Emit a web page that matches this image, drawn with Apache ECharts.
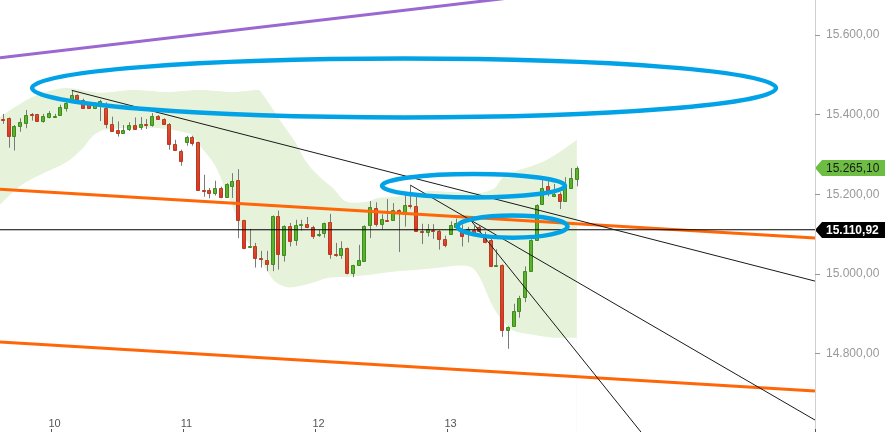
<!DOCTYPE html>
<html><head><meta charset="utf-8">
<script src="https://cdn.jsdelivr.net/npm/echarts@6/dist/echarts.min.js"></script>
<style>html,body{margin:0;padding:0;background:#fff}#c{width:887px;height:432px}</style>
</head><body><div id="c"></div>
<script>
// ---- categories (hourly slots, 23 per day) ----
const dayLabels = ['10', '11', '12', '13'];
const firstDayStartIndex = 9;
const slotsPerDay = 23;
const slotCount = 142;

// ---- candles (index 0..100) ----
const opens  = [15389,15391,15347,15372,15380,15401,15401,15385,15394,15394,15398,15416,15440,15450,15437,15426,15416,15429,15418,15376,
                15362,15353,15364,15374,15368,15377,15373,15397,15389,15377,15326,15309,15332,15343,15331,15210,15210,15204,15216,15192,
                15222,15236,15135,15068,15071,15041,15036,15025,15146,15047,15121,15085,15122,15125,15119,15097,15103,15130,15051,15047,
                15065,15003,15022,15032,15122,15165,15125,15136,15136,15161,15155,15174,15171,15109,15106,15111,15109,15088,15100,15119,
                15113,15107,15111,15118,15094,15085,15021,15023,14858,14868,14906,14942,15007,15086,15175,15221,15195,15201,15182,15216,15238];
const closes = [15387,15347,15372,15381,15399,15399,15385,15397,15404,15397,15419,15430,15450,15437,15418,15418,15429,15435,15376,15358,
                15355,15362,15374,15365,15376,15375,15397,15389,15376,15326,15311,15283,15343,15330,15211,15209,15204,15216,15192,15226,
                15234,15135,15066,15071,15040,15037,15025,15146,15050,15121,15082,15124,15125,15119,15095,15100,15128,15050,15048,15065,
                15002,15022,15036,15121,15168,15125,15139,15134,15160,15156,15174,15170,15109,15107,15114,15107,15088,15072,15124,15129,
                15096,15113,15103,15107,15079,15021,15023,14858,14867,14906,14940,15007,15086,15174,15216,15207,15200,15182,15220,15241,15265.10];
const lows   = [15377,15317,15310,15357,15366,15385,15383,15380,15391,15393,15397,15408,15439,15429,15417,15416,15414,15384,15366,15357,
                15345,15352,15359,15364,15362,15364,15370,15387,15374,15312,15309,15272,15322,15322,15210,15194,15190,15197,15190,15191,
                15191,15090,15062,15067,15016,15016,15007,15007,15011,15031,15069,15071,15109,15115,15088,15093,15091,15038,15043,15038,
                14999,14992,15021,15031,15090,15119,15112,15132,15135,15055,15119,15164,15107,15075,15094,15088,15061,15067,15099,15114,
                15069,15079,15096,15104,15077,15017,15020,14842,14812,14868,14890,14929,15006,15083,15174,15195,15193,15163,15181,15215,15220];
const highs  = [15402,15393,15374,15391,15412,15404,15402,15402,15409,15402,15425,15439,15461,15451,15440,15428,15431,15437,15431,15395,
                15383,15374,15381,15393,15394,15389,15404,15399,15391,15379,15337,15312,15347,15347,15332,15249,15216,15234,15219,15228,
                15253,15263,15136,15113,15078,15058,15058,15147,15159,15122,15128,15136,15136,15143,15121,15111,15129,15151,15078,15082,
                15066,15023,15073,15122,15183,15180,15150,15188,15178,15162,15204,15223,15197,15126,15125,15125,15110,15096,15132,15139,
                15124,15118,15121,15120,15106,15091,15062,15024,14868,14925,14945,15019,15087,15175,15236,15233,15226,15205,15243,15266,15270];

// ---- Bollinger band outline points (x in slot units) ----
const upperX = [-0.5,5.25,11.2,16.9,22.7,28.6,34.3,40.1,44.5,45.3,46.9,49.2,50.9,52.6,54.0,55.8,57.5,59.3,60.5,61.9,63.4,65.4,68.3,71.8,74.4,77.9,83.1,85.7,87.0,88.9,91.8,94.8,97.6,100];
const upperY = [15394,15445,15467,15455,15462,15457,15462,15457,15462,15450,15417,15367,15332,15287,15261,15236,15216,15186,15179,15179,15181,15191,15194,15199,15209,15206,15204,15216,15241,15256,15269,15287,15312,15337];
const lowerX = [-0.5,3.0,6.5,11.2,14.0,15.7,17.8,25.6,32.6,33.8,35.2,37.0,38.7,39.9,41.0,42.2,43.9,45.7,47.4,50.0,53.5,57.0,60.5,64.0,68.3,72.7,76.2,79.6,81.7,83.1,85.7,88.7,92.2,96.2,100];
const lowerY = [15174,15221,15249,15282,15317,15347,15362,15367,15352,15332,15307,15272,15216,15174,15131,15091,15056,15016,14981,14966,14976,14991,14993,14998,15006,15011,15016,15021,15016,14991,14910,14860,14848,14840,14840];

// ---- drawn annotation lines [[x,price],[x,price]] ----
const purpleLine = [[-0.5, 15543], [100, 15713]];
const orangeUpper = [[-0.5, 15213], [141.5, 15090]];
const orangeLower = [[-0.5, 14829], [141.5, 14706]];
const trendA = [[12, 15461], [141.5, 14982]];
const trendC = [[71, 15223], [141.5, 14633]];
const trendSteep = [[81.4, 15137], [111.9, 14590]];
const lastRef = 15110.92;
const refLine = [[-0.5, lastRef], [141.5, lastRef]];

// ---- ellipses (center x, center price, radius x, radius price) ----
const ellipseCx = [69.9, 82.0, 88.8];
const ellipseCy = [15467, 15221.5, 15119];
const ellipseRx = [64.8, 15.94, 9.58];
const ellipseRy = [74.1, 29.6, 27.9];

// ---- y axis ----
const yTicks = [14800, 15000, 15200, 15400, 15600];
const yMin = 14603, yMax = 15688;
const tagValues = [15265.10, 15110.92];

function fmt(v) {
  const s = Number(v).toFixed(2).split('.');
  return s[0].replace(/\B(?=(\d{3})+(?!\d))/g, '.') + ',' + s[1];
}

const categories = [];
for (let i = 0; i < slotCount; i++) {
  const k = i - firstDayStartIndex;
  const d = Math.floor(k / slotsPerDay);
  const s = ((k % slotsPerDay) + slotsPerDay) % slotsPerDay;
  const day = d >= 0 && d < dayLabels.length ? dayLabels[d] : String(Number(dayLabels[0]) + d);
  categories.push(day + '|' + s);
}
const isDayStart = (idx, v) => {
  const p = String(v).split('|');
  return p[1] === '0' && dayLabels.indexOf(p[0]) >= 0;
};

const candleData = opens.map((o, i) => [i, o, closes[i], lows[i], highs[i]]);
const upperData = upperX.map((x, i) => [x, upperY[i]]);
const lowerData = lowerX.map((x, i) => [x, lowerY[i]]);
const ellipseData = ellipseCx.map((x, i) => [x, ellipseCy[i], ellipseRx[i], ellipseRy[i]]);
const tagData = tagValues.map((v, i) => [141.5, v, i]);

const redGrad = new echarts.graphic.LinearGradient(0, 0, 0, 1, [
  {offset: 0, color: '#d45a30'}, {offset: 1, color: '#e2302a'}]);

function lineSeries(data, color, width, z) {
  return {type: 'line', xAxisIndex: 1, data: data, symbol: 'none', silent: true, z: z || 5,
    lineStyle: {color: color, width: width}, clip: true, animation: false};
}

const chart = echarts.init(document.getElementById('c'), null, {renderer: 'canvas'});
chart.setOption({
  animation: false,
  textStyle: {fontFamily: 'Liberation Sans'},
  grid: {left: 0, right: 72, top: 0, bottom: 0, containLabel: false},
  xAxis: [{
    type: 'category', data: categories, boundaryGap: true, z: 20,
    axisLine: {show: false, onZero: false},
    axisTick: {show: true, inside: true, length: 3, interval: isDayStart, lineStyle: {color: '#555'}},
    axisLabel: {show: true, inside: true, margin: 3, interval: isDayStart, color: '#555', fontSize: 11,
      fontFamily: "'Liberation Sans Narrow','Arial Narrow','Liberation Sans'",
      formatter: v => String(v).split('|')[0]},
    splitLine: {show: false}
  }, {
    type: 'value', min: -0.5, max: slotCount - 0.5, show: false,
    axisLine: {show: false, onZero: false}
  }],
  yAxis: {
    type: 'value', position: 'right', min: yMin, max: yMax, scale: true, z: 20,
    axisLine: {show: true, onZero: false, lineStyle: {color: '#d0d0d0'}},
    axisTick: {show: true, length: 5, customValues: yTicks, lineStyle: {color: '#999'}},
    axisLabel: {show: true, margin: 11, color: '#999', fontSize: 12, customValues: yTicks,
      formatter: v => (Math.abs(v % 200) < 1e-6 ? fmt(v) : '')},
    splitLine: {show: false}
  },
  series: [
    {type: 'line', xAxisIndex: 1, data: upperData, symbol: 'none', smooth: 0.3, silent: true, z: 1,
      lineStyle: {width: 0}, areaStyle: {color: '#e6f2d9', opacity: 1, origin: 'start'}},
    {type: 'line', xAxisIndex: 1, data: lowerData, symbol: 'none', smooth: 0.3, silent: true, z: 1,
      lineStyle: {width: 0}, areaStyle: {color: '#ffffff', opacity: 1, origin: 'start'}},
    {
      type: 'custom', xAxisIndex: 0, data: candleData, z: 3, clip: true,
      encode: {x: 0, y: [1, 2, 3, 4]},
      renderItem: function (params, api) {
        const i = api.value(0), o = api.value(1), c = api.value(2), l = api.value(3), h = api.value(4);
        const po = api.coord([i, o]);
        const x = Math.round(po[0]);
        const yo = po[1], yc = api.coord([i, c])[1], yl = api.coord([i, l])[1], yh = api.coord([i, h])[1];
        const up = c >= o;
        const top = Math.round(Math.min(yo, yc)), bot = Math.round(Math.max(yo, yc));
        return {type: 'group', children: [
          {type: 'line', shape: {x1: x + 0.5, y1: yh, x2: x + 0.5, y2: yl}, style: {stroke: '#7a7a7a', lineWidth: 1}},
          {type: 'rect', shape: {x: x - 1.5, y: top + 0.5, width: 3, height: Math.max(bot - top, 1)},
            style: {fill: up ? '#5cb12f' : redGrad, stroke: up ? '#3d8b1d' : '#b83b1f', lineWidth: 1}}
        ]};
      }
    },
    lineSeries(orangeUpper, '#ff6608', 3, 5),
    lineSeries(orangeLower, '#ff6608', 3, 5),
    lineSeries(purpleLine, '#9a68d0', 3, 5),
    lineSeries(refLine, '#000000', 1.2, 6),
    lineSeries(trendA, '#1a1a1a', 1, 6),
    lineSeries(trendC, '#1a1a1a', 1, 6),
    lineSeries(trendSteep, '#1a1a1a', 1, 6),
    {
      type: 'custom', xAxisIndex: 1, data: ellipseData, z: 7, clip: false,
      encode: {x: 0, y: 1},
      renderItem: function (params, api) {
        const cx = api.value(0), cy = api.value(1), rx = api.value(2), ry = api.value(3);
        const c = api.coord([cx, cy]);
        const e = api.coord([cx + rx, cy + ry]);
        return {type: 'ellipse', shape: {cx: c[0], cy: c[1], rx: Math.abs(e[0] - c[0]), ry: Math.abs(c[1] - e[1])},
          style: {fill: 'none', stroke: '#02a3e6', lineWidth: 4.5}};
      }
    },
    {
      type: 'custom', xAxisIndex: 1, data: tagData, z: 8, clip: false,
      encode: {x: 0, y: 1},
      renderItem: function (params, api) {
        const v = api.value(1), kind = api.value(2);
        const y = Math.round(api.coord([api.value(0), v])[1]);
        const x0 = params.coordSys.x + params.coordSys.width;
        const bg = kind === 0 ? '#6cbd42' : '#000000';
        return {type: 'group', children: [
          {type: 'polygon', shape: {points: [[x0, y], [x0 + 7, y - 8], [x0 + 70, y - 8], [x0 + 70, y + 8], [x0 + 7, y + 8]]},
            style: {fill: bg}},
          {type: 'text', style: {text: fmt(v), x: x0 + 11, y: y + 0.5, align: 'left', verticalAlign: 'middle',
            fill: kind === 0 ? '#1a1a1a' : '#ffffff',
            font: (kind === 0 ? 'normal ' : 'bold ') + '12px "Liberation Sans"'}}
        ]};
      }
    }
  ]
});
</script>
</body></html>
